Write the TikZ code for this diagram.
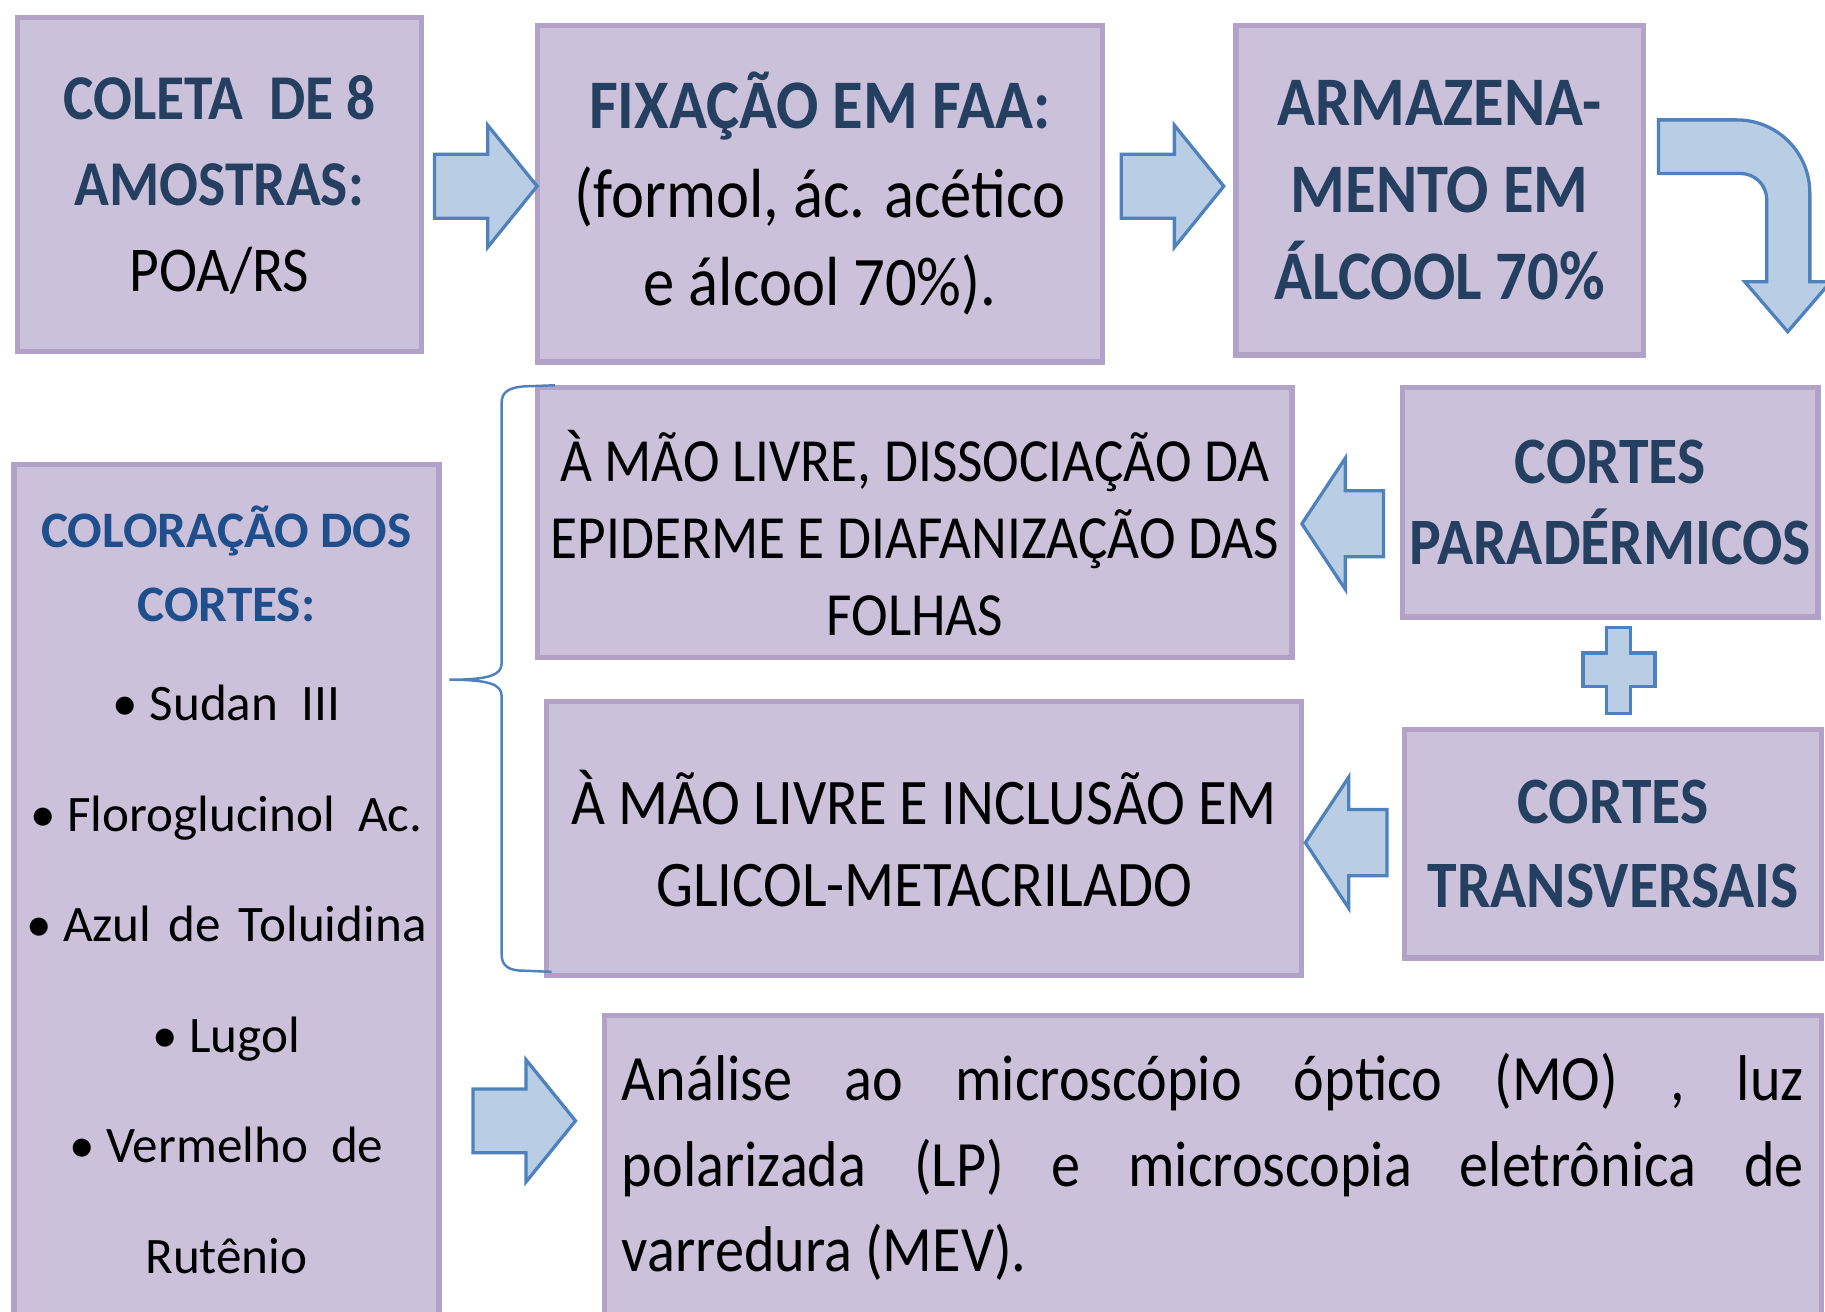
\documentclass[tikz,border=0pt]{standalone}
\usepackage{fontspec}
\setmainfont[FakeStretch=0.9]{Carlito}
\newfontfamily\largo{Carlito}
\usetikzlibrary{shapes.arrows}
\definecolor{caixa}{HTML}{CCC1DA}
\definecolor{borda}{HTML}{B3A2C7}
\definecolor{titulo}{HTML}{243F60}
\definecolor{titulob}{HTML}{1F4E8C}
\definecolor{setafill}{HTML}{B9CDE5}
\definecolor{setaborda}{HTML}{4F81BD}
\newcommand{\tit}[1]{\textcolor{titulo}{\bfseries #1}}
\tikzset{etapa/.style = {draw=borda, fill=caixa, line width=1.3pt,
                         inner sep=0pt, align=center},
         seta/.style = {single arrow, draw=setaborda, fill=setafill,
                        line width=0.8pt, inner xsep=0pt, inner ysep=0.26cm,
                        single arrow head extend=0.25cm,
                        single arrow tip angle=102, minimum height=0.88cm,
                        anchor=tail},
         setaesq/.style = {seta, shape border rotate=180, inner ysep=0.27cm,
                           single arrow head extend=0.28cm,
                           single arrow tip angle=113, minimum height=0.70cm},
         forma/.style = {draw=setaborda, fill=setafill, line width=0.8pt},
         chave/.style = {draw=setaborda, line width=0.6pt}}

\begin{document}
\begin{tikzpicture}[x=0.01cm, y=-0.01cm]
    \useasboundingbox (0, 0) rectangle (1568, 1127);
    \clip (0, 0) rectangle (1568, 1127);

    \node [etapa, minimum width=3.47cm, minimum height=2.87cm,
           font=\fontsize{15.6}{21}\selectfont] (coleta) at (188.5, 158.5)
          {\tit{COLETA~ DE 8}\\ \tit{AMOSTRAS:}\\ POA/RS};

    \node [etapa, minimum width=4.85cm, minimum height=2.89cm,
           font=\fontsize{17}{21.6}\selectfont] (fixacao) at (704.5, 166.5)
          {\tit{FIXAÇÃO EM FAA:}\\ (formol, ác. acético\\ e álcool 70\%).};

    \node [etapa, minimum width=3.50cm, minimum height=2.83cm,
           font=\fontsize{17}{21.3}\selectfont] (armaz) at (1237, 163.5)
          {\tit{ARMAZENA-}\\ \tit{MENTO EM}\\ \tit{ÁLCOOL 70\%}};

    \node [seta] (s1) at (372, 160) {};
    \node [seta] (s2) at (962, 160) {};

    \filldraw [forma] (1425, 103) -- (1492, 103) .. controls (1527, 103) and (1555, 131) .. (1555, 166)
        -- (1555, 242) -- (1573, 242) -- (1536, 285) -- (1499, 242) -- (1518, 242) -- (1518, 172)
        .. controls (1518, 159) and (1508, 149) .. (1495, 149) -- (1425, 149) -- cycle;

    \node [etapa, minimum width=3.57cm, minimum height=1.97cm,
           font=\fontsize{16.2}{19.9}\selectfont] (parad) at (1383.5, 431.5)
          {\tit{CORTES}\\ \tit{PARADÉRMICOS}};

    \node [etapa, minimum width=3.58cm, minimum height=1.96cm,
           font=\fontsize{16.2}{20.4}\selectfont] (transv) at (1386, 725)
          {\tit{CORTES}\\ \tit{TRANSVERSAIS}};

    \filldraw [forma] (1380, 539) -- (1401, 539) -- (1401, 561) -- (1422, 561) -- (1422, 590)
        -- (1401, 590) -- (1401, 613) -- (1380, 613) -- (1380, 590) -- (1360, 590)
        -- (1360, 561) -- (1380, 561) -- cycle;

    \node [etapa, minimum width=6.48cm, minimum height=2.32cm,
           font=\fontsize{15}{18.8}\selectfont] (dissoc) at (786, 449)
          {\rule{0pt}{0.62cm}À MÃO LIVRE, DISSOCIAÇÃO DA\\ EPIDERME E DIAFANIZAÇÃO DAS\\ FOLHAS};

    \node [etapa, minimum width=6.48cm, minimum height=2.35cm,
           font=\fontsize{15.9}{20.2}\selectfont] (inclus) at (794, 720.5)
          {À MÃO LIVRE E INCLUSÃO EM\\ GLICOL-METACRILADO};

    \node [setaesq] (s3) at (1190, 450) {};
    \node [setaesq] (s4) at (1193, 724) {};

    \draw [chave] (477, 331) -- (450, 332) .. controls (437, 333) and (431, 337) .. (431, 346)
        -- (431, 570) .. controls (431, 580) and (420, 584) .. (386, 584)
        .. controls (420, 584) and (431, 588) .. (431, 598)
        -- (431, 820) .. controls (431, 830) and (437, 834) .. (450, 834) -- (474, 835);

    \node [etapa, anchor=north, inner xsep=0.015cm, inner ysep=0.35cm] (color) at (194.5, 397)
          {\parbox[b][7.5cm][t]{3.62cm}{\centering\largo
           \fontsize{12.5}{18.2}\selectfont\bfseries\color{titulob}
           COLORAÇÃO DOS\par CORTES:\par
           \mdseries\color{black}\fontsize{12.5}{24.2}\selectfont
           • Sudan~ III\par
           \fontsize{12.5}{27}\selectfont
           • Floroglucinol~ Ac.\par
           • Azul\hspace{0.12em} de\hspace{0.12em} Toluidina\par
           • Lugol\par
           • Vermelho~ de\par
           Rutênio\par}};

    \node [seta] (s5) at (405, 963) {};

    \node [etapa, anchor=north west, inner xsep=0.15cm, inner ysep=0.33cm] (analise) at (517, 870)
          {\parbox[b][2.9cm][t]{10.15cm}{\fontsize{15.8}{20.8}\selectfont
           Análise ao microscópio óptico (MO) , luz\linebreak
           polarizada (LP) e microscopia eletrônica de\linebreak
           varredura (MEV).}};
\end{tikzpicture}
\end{document}
